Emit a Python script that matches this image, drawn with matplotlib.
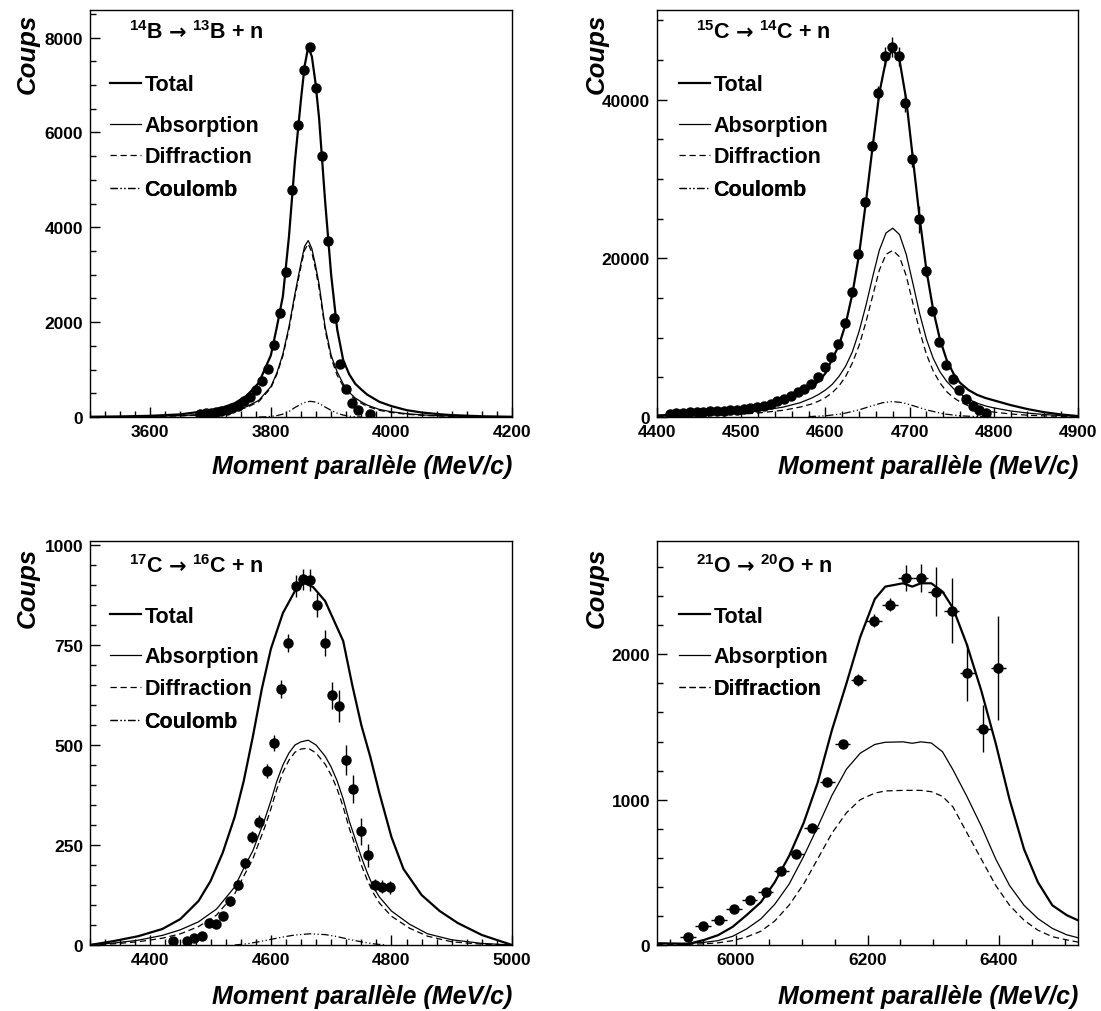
import matplotlib
matplotlib.use("Agg")
import matplotlib.pyplot as plt
from matplotlib.ticker import MultipleLocator

plt.rcParams['font.family'] = ['Liberation Sans', 'DejaVu Sans']
plt.rcParams['font.weight'] = 'bold'
plt.rcParams['mathtext.fontset'] = 'custom'
plt.rcParams['mathtext.rm'] = 'Liberation Sans:bold'
plt.rcParams['mathtext.it'] = 'Liberation Sans:italic:bold'
plt.rcParams['mathtext.bf'] = 'Liberation Sans:bold'
plt.rcParams['axes.linewidth'] = 1.0

# ---------------- Panel 1 : 14B -> 13B + n ----------------
p1_x = [3683, 3692, 3700, 3709, 3718, 3727, 3736, 3745, 3755, 3765, 3775, 3785, 3795, 3805,
        3815, 3825, 3835, 3845, 3855, 3865, 3875, 3885, 3895, 3905, 3915, 3925, 3935, 3945, 3965]
p1_y = [63, 78, 91, 105, 126, 147, 183, 238, 331, 427, 560, 764, 1011, 1525,
        2183, 3063, 4789, 6148, 7324, 7803, 6937, 5493, 3704, 2085, 1127, 599, 303, 148, 70]
p1_cx = [3500, 3550, 3600, 3650, 3700, 3720, 3740, 3760, 3780, 3800, 3810, 3820, 3830, 3840,
         3850, 3856, 3862, 3868, 3874, 3880, 3890, 3900, 3910, 3920, 3930, 3940, 3950, 3960,
         3980, 4000, 4025, 4050, 4080, 4100, 4150, 4200]
p1_total = [5, 12, 25, 55, 140, 200, 290, 450, 720, 1300, 1900, 2550, 3800, 5400,
            6700, 7400, 7800, 7600, 7050, 6300, 4550, 3000, 1850, 1200, 900, 700, 580, 470,
            320, 230, 145, 95, 58, 40, 15, 5]
p1_abs = [2, 5, 12, 28, 65, 95, 140, 220, 350, 640, 930, 1330, 1900, 2600,
          3250, 3600, 3720, 3550, 3200, 2800, 1900, 1300, 950, 700, 520, 400, 320, 250,
          160, 110, 70, 45, 27, 18, 7, 2]
p1_diff = [1, 3, 9, 22, 55, 82, 125, 200, 325, 610, 900, 1290, 1850, 2540,
           3180, 3520, 3650, 3470, 3120, 2720, 1840, 1240, 880, 650, 480, 370, 290, 225,
           140, 95, 58, 36, 20, 13, 5, 1]
p1_coul_x = [3780, 3790, 3800, 3810, 3820, 3830, 3840, 3850, 3858, 3865, 3872, 3880, 3890,
             3900, 3910, 3920, 3930, 3940, 3950]
p1_coul = [0, 3, 12, 30, 60, 115, 200, 270, 315, 330, 320, 285, 210, 140, 80, 40, 18, 6, 0]

# ---------------- Panel 2 : 15C -> 14C + n ----------------
p2_x = [4415, 4423, 4431, 4439, 4447, 4455, 4463, 4471, 4479, 4487, 4495, 4503, 4511, 4519,
        4527, 4535, 4543, 4551, 4559, 4567, 4575, 4583, 4591, 4599, 4607, 4615, 4623, 4631,
        4639, 4647, 4655, 4663, 4671, 4679, 4687, 4695, 4703, 4711, 4719, 4727, 4735, 4743,
        4751, 4759, 4767, 4775, 4783, 4791]
p2_y = [379, 463, 505, 590, 632, 674, 716, 758, 800, 842, 927, 1011, 1095, 1222,
        1390, 1643, 2022, 2317, 2696, 3117, 3538, 4170, 5097, 6277, 7540, 9225, 11814, 15738,
        20590, 27089, 34177, 40844, 45443, 46624, 45443, 39578, 32489, 24895, 18354, 13376,
        9494, 6540, 4852, 3375, 2236, 1350, 844, 506]
p2_yerr = [60, 60, 70, 70, 70, 80, 80, 80, 80, 90, 90, 90, 100, 100,
           110, 120, 130, 140, 150, 160, 170, 190, 210, 230, 260, 290, 340, 400,
           470, 560, 650, 900, 1200, 1300, 1200, 1150, 950, 1700, 700, 560,
           450, 380, 320, 260, 210, 160, 130, 100]
p2_cx = [4400, 4425, 4450, 4475, 4500, 4520, 4550, 4570, 4584, 4592, 4600, 4608, 4616, 4624,
         4632, 4640, 4648, 4656, 4664, 4672, 4680, 4688, 4696, 4704, 4712, 4720, 4728, 4736,
         4744, 4752, 4760, 4770, 4780, 4790, 4800, 4820, 4840, 4860, 4880, 4900]
p2_total = [200, 300, 450, 700, 1050, 1400, 2200, 3000, 3800, 4500, 5500, 7300, 9000, 11700,
            15500, 20500, 27000, 34000, 40800, 45000, 46300, 45000, 40000, 32500, 25000, 18500,
            13500, 9800, 7200, 5500, 4300, 3400, 2800, 2400, 2100, 1500, 1000, 600, 320, 120]
p2_abs = [100, 160, 250, 380, 550, 750, 1250, 1800, 2400, 2850, 3400, 4100, 5100, 6400,
          8200, 10800, 14000, 17600, 21000, 23200, 23800, 23000, 20500, 16800, 13000, 9800,
          7400, 5700, 4500, 3600, 2900, 2250, 1750, 1400, 1150, 760, 500, 310, 180, 90]
p2_diff = [50, 90, 150, 240, 360, 500, 850, 1250, 1650, 2000, 2450, 3050, 3900, 5100,
           6800, 9000, 11900, 15200, 18500, 20500, 21000, 20200, 17800, 14300, 10800, 7900,
           5800, 4300, 3200, 2450, 1900, 1400, 1050, 800, 620, 380, 230, 140, 80, 40]
p2_coul_x = [4580, 4600, 4620, 4640, 4655, 4668, 4680, 4692, 4705, 4720, 4740, 4760, 4780, 4800]
p2_coul = [50, 150, 400, 900, 1400, 1800, 1950, 1800, 1400, 900, 400, 150, 50, 10]

# ---------------- Panel 3 : 17C -> 16C + n ----------------
p3_x = [4437, 4461, 4473, 4485, 4497, 4509, 4521, 4533, 4545, 4557, 4569, 4581, 4593, 4605,
        4617, 4629, 4641, 4653, 4665, 4677, 4689, 4701, 4713, 4725, 4737, 4749, 4761, 4773,
        4785, 4797]
p3_y = [10, 11, 18, 23, 56, 53, 72, 109, 150, 204, 269, 308, 435, 506,
        640, 755, 897, 914, 912, 850, 755, 624, 597, 462, 391, 284, 224, 150, 146, 144]
p3_yerr = [5, 5, 6, 7, 9, 9, 10, 11, 12, 13, 15, 16, 18, 20,
           22, 22, 27, 27, 27, 30, 33, 33, 40, 38, 35, 33, 28, 15, 16, 16]
p3_tx = [4300, 4340, 4380, 4420, 4450, 4480, 4500, 4520, 4540, 4555, 4570, 4585, 4600, 4620,
         4640, 4655, 4670, 4690, 4705, 4720, 4735, 4750, 4765, 4780, 4800, 4820, 4850, 4880,
         4910, 4950, 5000]
p3_total = [0, 10, 22, 40, 65, 110, 160, 230, 320, 410, 520, 640, 740, 830,
            885, 905, 895, 860, 810, 760, 650, 550, 470, 380, 270, 190, 125, 85,
            55, 25, 0]
p3_cx = [4300, 4340, 4380, 4420, 4450, 4480, 4510, 4540, 4556, 4570, 4590, 4600, 4610, 4620,
         4630, 4640, 4650, 4662, 4675, 4690, 4700, 4710, 4720, 4730, 4740, 4750, 4760, 4770,
         4780, 4800, 4830, 4860, 4900, 4950, 5000]
p3_abs = [1, 5, 12, 24, 38, 58, 90, 145, 195, 235, 315, 360, 410, 450,
          480, 500, 508, 512, 500, 472, 445, 410, 365, 310, 265, 220, 180, 145,
          120, 85, 52, 28, 13, 4, 0]
p3_diff = [0, 3, 8, 17, 28, 46, 75, 128, 175, 215, 295, 340, 390, 432,
           462, 482, 490, 492, 480, 452, 425, 390, 345, 292, 248, 200, 162, 130,
           105, 72, 42, 22, 8, 2, 0]
p3_coul_x = [4540, 4560, 4580, 4600, 4620, 4640, 4665, 4690, 4710, 4730, 4750, 4770, 4790]
p3_coul = [0, 3, 8, 14, 20, 25, 28, 26, 21, 14, 8, 3, 0]

# ---------------- Panel 4 : 21O -> 20O + n ----------------
p4_x = [5927, 5950, 5974, 5997, 6021, 6045, 6069, 6092, 6115, 6139, 6162, 6186, 6210, 6234,
        6258, 6281, 6304, 6328, 6352, 6376, 6399]
p4_y = [57, 132, 175, 250, 307, 364, 509, 623, 807, 1123, 1386, 1823, 2232, 2341,
        2523, 2527, 2432, 2300, 1875, 1489, 1905]
p4_yerr = [10, 12, 14, 16, 18, 20, 22, 24, 28, 18, 25, 40, 45, 45,
           90, 95, 170, 225, 193, 162, 358]
p4_xerr = 11.7
p4_cx = [5880, 5905, 5927, 5951, 5973, 5995, 6016, 6038, 6059, 6081, 6103, 6124, 6146, 6168,
         6189, 6211, 6227, 6254, 6268, 6281, 6297, 6314, 6330, 6351, 6373, 6395, 6416, 6438,
         6459, 6481, 6503, 6520]
p4_total = [12, 10, 7, 34, 68, 125, 205, 295, 432, 614, 841, 1114, 1480, 1800,
            2120, 2380, 2466, 2489, 2466, 2489, 2489, 2432, 2318, 2068, 1750, 1386, 1000, 659,
            432, 273, 205, 170]
p4_abs = [10, 10, 12, 18, 30, 60, 110, 180, 280, 420, 610, 810, 1030, 1210,
          1320, 1380, 1395, 1398, 1388, 1398, 1390, 1330, 1205, 1023, 818, 591, 409, 273,
          182, 114, 70, 50]
p4_diff = [5, 5, 5, 8, 15, 30, 55, 95, 165, 275, 420, 590, 770, 910,
           1000, 1045, 1060, 1064, 1064, 1064, 1055, 1023, 950, 773, 591, 409, 273, 170,
           102, 57, 35, 20]

# reaction titles: (parent mass, parent, daughter mass, daughter)
reactions = [('14', 'B', '13', 'B'), ('15', 'C', '14', 'C'),
             ('17', 'C', '16', 'C'), ('21', 'O', '20', 'O')]
legend_labels = ['Total', 'Absorption', 'Diffraction', 'Coulomb']
xlabel = 'Moment parallèle (MeV/c)'
ylabel = 'Coups'

# ---------------- layout ----------------
W, H = 1101, 1012
fig = plt.figure(figsize=(W / 100, H / 100), dpi=100)


def rect(l, t, r, b):
    return [l / W, 1 - b / H, (r - l) / W, (b - t) / H]


cfg = [
    dict(box=(90, 11, 512, 418), xlim=(3500, 4200), ylim=(0, 8580), xmaj=200, xmin=25,
         ymaj=2000, ymin=500, yl_x=-0.147, title_xy=(0.093, 0.920), leg_x=0.047,
         leg_y=[0.816, 0.715, 0.639, 0.558], xl_y=-0.120, yl_top=0.993),
    dict(box=(657, 11, 1078, 418), xlim=(4400, 4900), ylim=(0, 51300), xmaj=100, xmin=20,
         ymaj=20000, ymin=5000, yl_x=-0.1425, title_xy=(0.093, 0.920), leg_x=0.052,
         leg_y=[0.816, 0.715, 0.639, 0.558], xl_y=-0.120, yl_top=0.993),
    dict(box=(90, 542, 512, 946), xlim=(4300, 5000), ylim=(0, 1010), xmaj=200, xmin=25,
         ymaj=250, ymin=50, yl_x=-0.147, title_xy=(0.093, 0.911), leg_x=0.047,
         leg_y=[0.814, 0.713, 0.634, 0.552], xl_y=-0.126, yl_top=0.985),
    dict(box=(657, 542, 1078, 946), xlim=(5880, 6520), ylim=(0, 2780), xmaj=200, xmin=50,
         ymaj=1000, ymin=200, yl_x=-0.1425, title_xy=(0.093, 0.911), leg_x=0.052,
         leg_y=[0.814, 0.713, 0.634, 0.552], xl_y=-0.126, yl_top=0.985),
]

series = [
    (p1_cx, p1_total, p1_cx, p1_abs, p1_diff, p1_coul_x, p1_coul, p1_x, p1_y, None, None),
    (p2_cx, p2_total, p2_cx, p2_abs, p2_diff, p2_coul_x, p2_coul, p2_x, p2_y, p2_yerr, None),
    (p3_tx, p3_total, p3_cx, p3_abs, p3_diff, p3_coul_x, p3_coul, p3_x, p3_y, p3_yerr, None),
    (p4_cx, p4_total, p4_cx, p4_abs, p4_diff, None, None, p4_x, p4_y, p4_yerr, p4_xerr),
]

for c, s, rx in zip(cfg, series, reactions):
    tx, tot, cx, ab, df, kx, ky, dx, dy, dyerr, dxerr = s
    ax = fig.add_axes(rect(*c['box']))
    h_tot, = ax.plot(tx, tot, color='black', lw=1.6, solid_joinstyle='round')
    h_abs, = ax.plot(cx, ab, color='black', lw=0.9)
    h_dif, = ax.plot(cx, df, color='black', lw=0.9, ls=(0, (5, 3)))
    handles = [h_tot, h_abs, h_dif]
    if kx is not None:
        h_c, = ax.plot(kx, ky, color='black', lw=0.9, ls=(0, (6, 2, 1, 2, 1, 2)))
        handles.append(h_c)
    ax.errorbar(dx, dy, yerr=dyerr, xerr=dxerr, fmt='o', ms=6.5, mfc='black', mec='black',
                ecolor='black', elinewidth=1.0, capsize=0, zorder=5)

    ax.set_xlim(*c['xlim'])
    ax.set_ylim(*c['ylim'])
    ax.xaxis.set_major_locator(MultipleLocator(c['xmaj']))
    ax.xaxis.set_minor_locator(MultipleLocator(c['xmin']))
    ax.yaxis.set_major_locator(MultipleLocator(c['ymaj']))
    ax.yaxis.set_minor_locator(MultipleLocator(c['ymin']))
    ax.tick_params(which='both', direction='in', top=False, right=False, width=1.0)
    ax.tick_params(which='major', length=7, labelsize=12.5)
    ax.tick_params(axis='x', which='major', pad=5)
    ax.tick_params(axis='y', which='major', pad=5)
    ax.tick_params(which='minor', length=4)
    for lab in ax.get_xticklabels() + ax.get_yticklabels():
        lab.set_fontweight('bold')

    ax.text(c['yl_x'], c['yl_top'], ylabel, transform=ax.transAxes, rotation=90,
            ha='center', va='top', fontsize=18.5, fontweight='bold', fontstyle='italic')
    ax.text(1.0, c['xl_y'], xlabel, transform=ax.transAxes, ha='right', va='center',
            fontsize=18, fontweight='bold', fontstyle='italic')

    # title: "^A X  ->  ^A' X' + n" with a bold DejaVu arrow
    t1 = ax.text(c['title_xy'][0], c['title_xy'][1], r'$^{%s}$%s' % (rx[0], rx[1]),
                 transform=ax.transAxes, ha='left', va='bottom', fontsize=15.5,
                 fontweight='bold')
    t2 = ax.annotate('→', xy=(1, 0), xycoords=t1, xytext=(4, 0.5),
                     textcoords='offset points', ha='left', va='bottom', fontsize=15,
                     fontweight='bold', family='DejaVu Sans')
    ax.annotate(r'$^{%s}$%s + n' % (rx[2], rx[3]), xy=(1, 0), xycoords=(t2, t1),
                xytext=(4, 0), textcoords='offset points', ha='left', va='bottom',
                fontsize=15.5, fontweight='bold')

    for h, lab, ly in zip(handles, legend_labels, c['leg_y']):
        leg = ax.legend([h], [lab], loc='center left', bbox_to_anchor=(c['leg_x'], ly),
                        bbox_transform=ax.transAxes, frameon=False, borderpad=0,
                        borderaxespad=0, handlelength=1.45, handletextpad=0.15,
                        prop={'size': 15.5, 'weight': 'bold'})
        ax.add_artist(leg)

fig.savefig('out.png', dpi=100)
